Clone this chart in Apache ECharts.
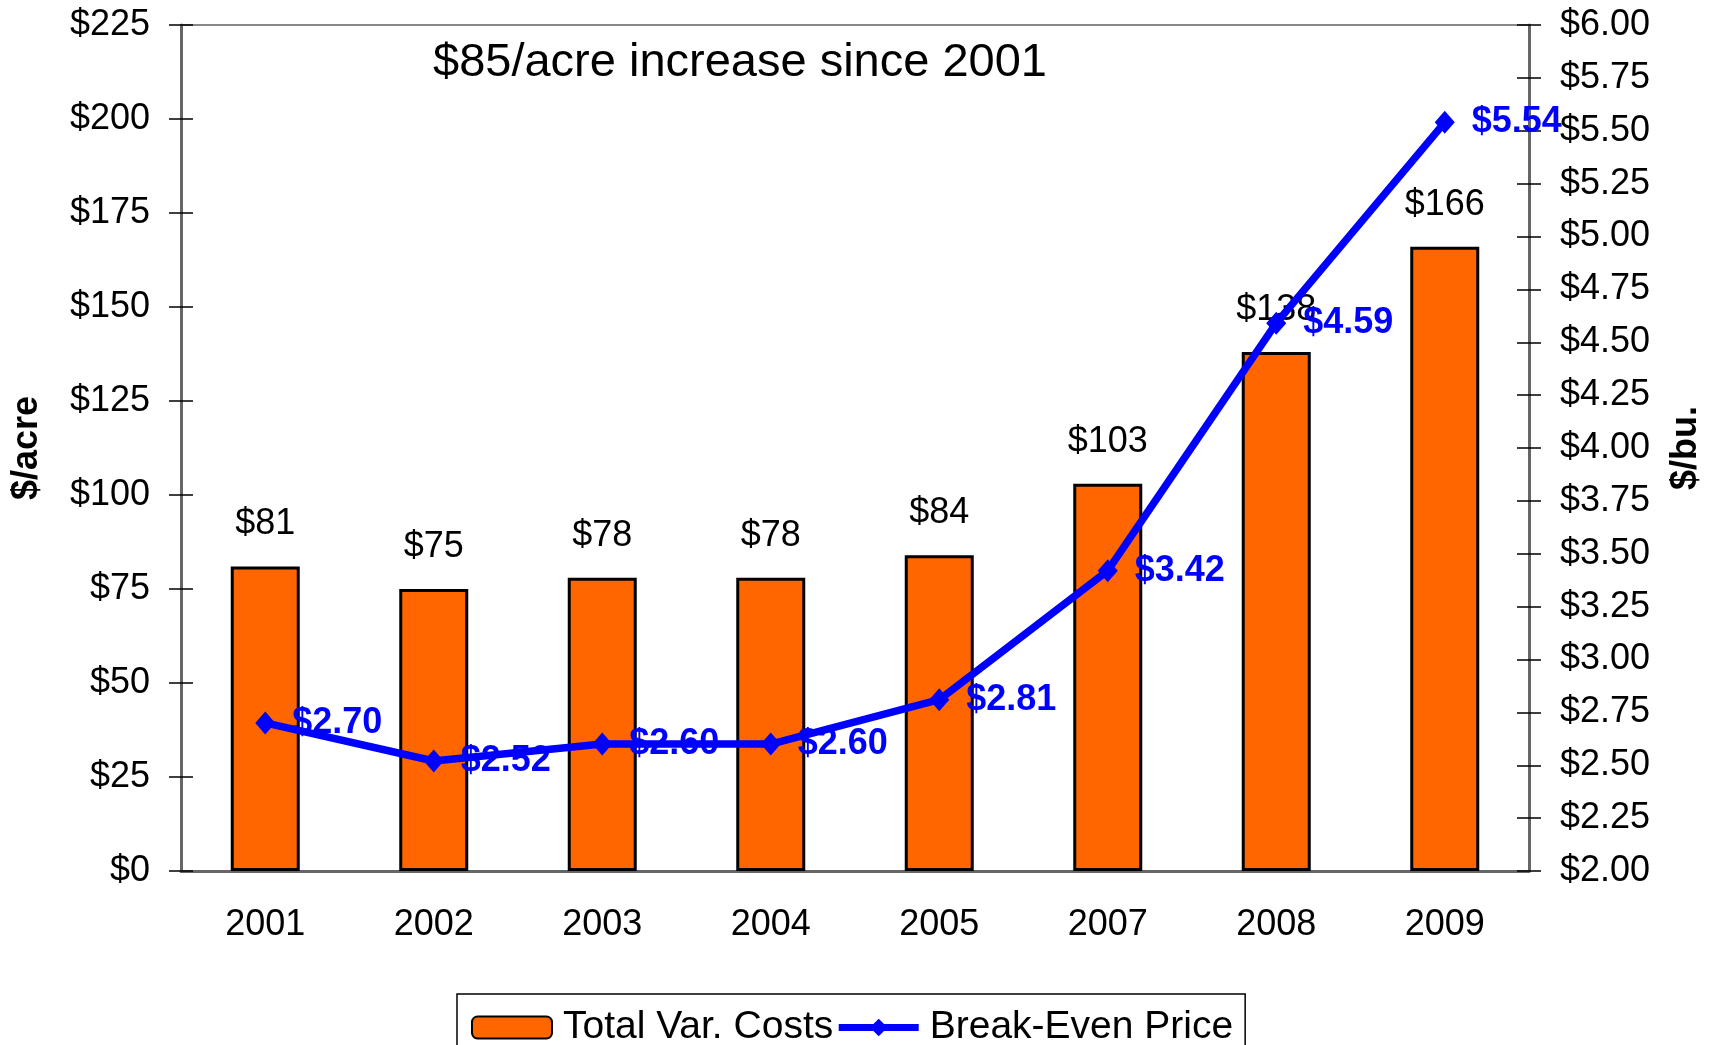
<!DOCTYPE html>
<html>
<head>
<meta charset="utf-8">
<script src="https://cdn.jsdelivr.net/npm/echarts@6/dist/echarts.min.js"></script>
<style>
  html, body { margin: 0; padding: 0; background: #fff; }
  #chart { width: 1719px; height: 1045px; }
</style>
</head>
<body>
<div id="chart"></div>
<script>
// Corn production: total variable costs ($/acre) and break-even price ($/bu.)
const years = ['2001', '2002', '2003', '2004', '2005', '2007', '2008', '2009'];
const totalVarCosts = [81, 75, 78, 78, 84, 103, 138, 166];
const breakEvenPrice = [2.70, 2.52, 2.60, 2.60, 2.81, 3.42, 4.59, 5.54];
const headline = '$85/acre increase since 2001';

const FONT = "'Liberation Sans', Arial, sans-serif";
const AXIS_GRAY = '#666666';
const BLUE = '#0000FF';

function valueAxis(pos, min, max, interval, fmt, inside, extra) {
  return Object.assign({
    type: 'value',
    position: pos,
    min: min, max: max, interval: interval,
    splitLine: { show: false },
    axisLine: { show: !inside, lineStyle: { color: AXIS_GRAY, width: 3 } },
    axisTick: { show: true, inside: inside, length: 12, lineStyle: { color: '#000', width: 1.5 } },
    axisLabel: {
      show: !inside, margin: 31, color: '#000',
      fontFamily: FONT, fontSize: 36, formatter: fmt
    }
  }, extra || {});
}

const chart = echarts.init(document.getElementById('chart'));
chart.setOption({
  animation: false,
  backgroundColor: '#ffffff',
  textStyle: { fontFamily: FONT },
  title: {
    text: headline,
    left: 428, top: 35,
    textStyle: { fontFamily: FONT, fontSize: 47, fontWeight: 'normal', color: '#000' }
  },
  grid: {
    left: 181, right: 190, top: 25, bottom: 174,
    show: true, borderColor: '#888888', borderWidth: 2, backgroundColor: 'transparent'
  },
  legend: {
    top: 994, left: 457,
    padding: [14, 12, 30, 14],
    borderColor: '#000', borderWidth: 1.5,
    itemWidth: 80, itemHeight: 22, itemGap: 2,
    textStyle: { fontFamily: FONT, fontSize: 39, color: '#000', padding: [0, 0, 0, 6] },
    data: [
      { name: 'Total Var. Costs' },
      { name: 'Break-Even Price', lineStyle: { width: 7, color: BLUE } }
    ]
  },
  xAxis: [
    {
      type: 'category', data: years, position: 'bottom',
      axisLine: { lineStyle: { color: AXIS_GRAY, width: 3 } },
      axisTick: { length: 12, lineStyle: { color: '#000', width: 1.5 } },
      axisLabel: { margin: 36, color: '#000', fontFamily: FONT, fontSize: 36 }
    },
    {
      type: 'category', data: years, position: 'bottom',
      axisLine: { show: false },
      axisTick: { inside: true, length: 12, lineStyle: { color: '#000', width: 1.5 } },
      axisLabel: { show: false }
    }
  ],
  yAxis: [
    valueAxis('left', 0, 225, 25, v => '$' + v, false, {
      name: '$/acre', nameLocation: 'middle', nameGap: 136, nameRotate: 90,
      nameTextStyle: { fontFamily: FONT, fontSize: 36, fontWeight: 'bold', color: '#000' }
    }),
    valueAxis('right', 2, 6, 0.25, v => '$' + v.toFixed(2), false, {
      name: '$/bu.', nameLocation: 'middle', nameGap: 139, nameRotate: 90,
      nameTextStyle: { fontFamily: FONT, fontSize: 36, fontWeight: 'bold', color: '#000' }
    }),
    valueAxis('left', 0, 225, 25, null, true),
    valueAxis('right', 2, 6, 0.25, null, true)
  ],
  series: [
    {
      name: 'Total Var. Costs',
      type: 'bar',
      xAxisIndex: 0, yAxisIndex: 0,
      data: totalVarCosts,
      barWidth: 69,
      itemStyle: { color: '#FF6600', borderColor: '#000', borderWidth: 3 },
      label: {
        show: true, position: 'top', distance: 24,
        color: '#000', fontFamily: FONT, fontSize: 36,
        formatter: p => '$' + p.value
      },
      z: 2
    },
    {
      name: 'Break-Even Price',
      type: 'line',
      xAxisIndex: 0, yAxisIndex: 1,
      data: breakEvenPrice,
      symbol: 'diamond', symbolSize: [20, 23],
      itemStyle: { color: BLUE },
      lineStyle: { color: BLUE, width: 7.5 },
      label: {
        show: true, position: 'right', distance: 17,
        color: BLUE, fontFamily: FONT, fontSize: 36, fontWeight: 'bold',
        formatter: p => '$' + p.value.toFixed(2)
      },
      z: 5
    }
  ]
});
</script>
</body>
</html>
